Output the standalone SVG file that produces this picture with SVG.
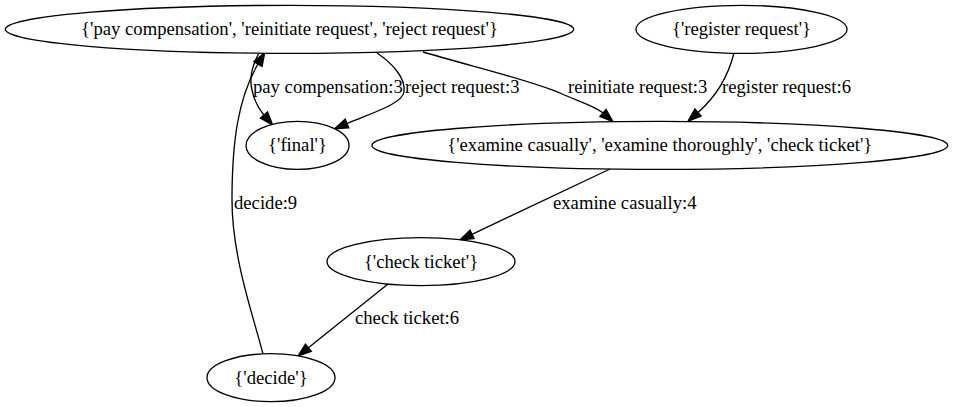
<svg xmlns="http://www.w3.org/2000/svg" width="953" height="407" viewBox="0 0 953 407">
<style>
.node ellipse{fill:#ffffff;stroke:#000000;stroke-width:1.33}
.node text{font-family:"Liberation Serif","Times New Roman",serif;font-size:18.67px;text-anchor:middle;fill:#000}
.edges path{fill:none;stroke:#000;stroke-width:1.33;marker-end:url(#arr)}
.edges text{font-family:"Liberation Serif","Times New Roman",serif;font-size:18.67px;fill:#000}
</style>
<defs>
<marker id="arr" markerUnits="userSpaceOnUse" markerWidth="16" markerHeight="12" refX="0" refY="0" viewBox="0 -6 16 12" orient="auto" overflow="visible">
<path d="M0,-4.7 L13.3,0 L0,4.7 Z" fill="#000" stroke="#000" stroke-width="1.33"/>
</marker>
</defs>
<rect width="953" height="407" fill="#fff"/>
<g class="edges" id="edges">
<path d="M263,354 C254,318 232,258 232,200 C232,142 238,98 258,64"/>
<text x="234" y="209">decide:9</text>
<path d="M259,53 C253,64 249,78 252,90 C254,100 258,108 264,115"/>
<text x="253" y="93">pay compensation:3</text>
<path d="M377,53 C392,63 406,78 404,92 C402,104 372,113 347,123.5"/>
<text x="405" y="93">reject request:3</text>
<path d="M423,52 C470,66 530,80 560,93 C580,102 595,106 603,113"/>
<text x="568" y="93">reinitiate request:3</text>
<path d="M734,53 C729,73 719,94 698,112.5"/>
<text x="722" y="93">register request:6</text>
<path d="M610,169 L472,234.3"/>
<text x="553" y="209">examine casually:4</text>
<path d="M388,284 L308.4,347.7"/>
<text x="355" y="324">check ticket:6</text>
</g>
<g class="node" id="node_A">
<ellipse cx="289.5" cy="29.33" rx="284.2" ry="24"/>
<text x="289.5" y="35.3">{'pay compensation', 'reinitiate request', 'reject request'}</text>
</g>
<g class="node" id="node_R">
<ellipse cx="741.5" cy="29.33" rx="105.5" ry="24"/>
<text x="741.5" y="35.3">{'register request'}</text>
</g>
<g class="node" id="node_F">
<ellipse cx="297.5" cy="145.44" rx="51.5" ry="24"/>
<text x="297.5" y="151.4">{'final'}</text>
</g>
<g class="node" id="node_E">
<ellipse cx="659.8" cy="145.44" rx="287.9" ry="24"/>
<text x="659.8" y="151.4">{'examine casually', 'examine thoroughly', 'check ticket'}</text>
</g>
<g class="node" id="node_C">
<ellipse cx="421" cy="261.56" rx="94" ry="24"/>
<text x="421" y="267.5">{'check ticket'}</text>
</g>
<g class="node" id="node_D">
<ellipse cx="271" cy="377.67" rx="64" ry="24"/>
<text x="271" y="383.6">{'decide'}</text>
</g>
</svg>
